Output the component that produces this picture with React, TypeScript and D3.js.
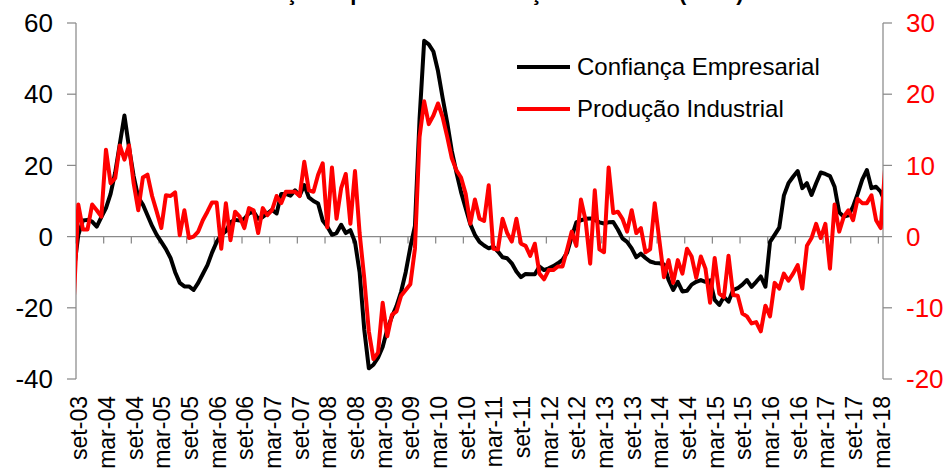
import React from 'react';
import * as d3 from 'd3';

// chart size and plot box (px)
const W = 947;
const H = 469;
const plotLeft = 76;
const plotRight = 883;
const plotTop = 23;
const plotBottom = 379;

// months: data run from ago-03 to abr-18; the first and last months sit outside the plot and are clipped
const monthNames = ['jan', 'fev', 'mar', 'abr', 'mai', 'jun', 'jul', 'ago', 'set', 'out', 'nov', 'dez'];
const firstYear = 2003;
const firstMonth = 7; // ago

// Confiança Empresarial (left axis)
const confianca = [
  -10, 0.5, 4.5, 4.7, 4.2, // 2003 ago-dez
  2.8, 5.5, 8, 12, 18, 26, 34, 25, 17, 11, 9, 6, // 2004
  3, 0.5, -1.5, -3.5, -6, -10, -13, -14, -14, -15, -13, -10.5, // 2005
  -8, -4.5, -1.5, 0.5, 1.5, 4, 4.7, 4.5, 5, 6.5, 7, 5, // 2006
  5.5, 6.5, 7.5, 6.5, 12, 12, 11.5, 13, 11.5, 14.5, 11, 10, // 2007
  9.3, 4.5, 2.8, 0.5, 1, 3.3, 1, 1.8, -1.5, -10, -26, -37, // 2008
  -36, -34, -31, -26, -22.5, -19.5, -15.5, -10, -3, 3, 33, 55, // 2009
  54, 52, 46.5, 39, 32, 24, 18, 12.5, 8, 3.5, 0.5, -1.5, // 2010
  -2.5, -3.3, -2.8, -4.2, -5.8, -6.1, -7.5, -9.8, -11.4, -10.5, -10.6, -10.6, // 2011
  -8.4, -9.4, -8.9, -8.3, -7.5, -6.5, -4.5, 0, 4, 4.6, 5, 5.1, // 2012
  4.7, 4, 3.7, 4, 4.1, 2, -0.5, -1.5, -3.3, -5.8, -4.8, -6, // 2013
  -7, -7.4, -7.5, -7.8, -12.2, -15, -12.7, -15.4, -15.2, -13.5, -12.7, -12.2, // 2014
  -12.7, -12.3, -17.8, -19.2, -16.9, -18.3, -15, -14.5, -13.5, -12.2, -14.1, -12.7, // 2015
  -11.2, -14.1, -1.5, 0.5, 2.5, 11.5, 15, 16.8, 18.4, 13.6, 15, 11.7, // 2016
  15, 18, 17.6, 17, 14, 6.8, 5.6, 6, 8.4, 12, 16, 18.7, // 2017
  13.6, 14, 12.6, 9.5, // 2018 jan-abr
];

// Produção Industrial (right axis)
const producao = [
  -9.2, 4.5, 1, 1, 4.5, // 2003 ago-dez
  3.7, 2.8, 12.2, 7.5, 8.2, 12.8, 10.8, 12.8, 7.5, 3.7, 8.3, 8.7, // 2004
  5.7, 3.5, 1.2, 5.8, 5.7, 6.2, 0.2, 3.7, -0.2, 0, 0.7, 2.3, // 2005
  3.5, 4.8, 4.8, -1.7, 4.7, -0.5, 3.5, 2.8, 1.2, 4, 3.7, 0.5, // 2006
  4, 3, 3.7, 5.7, 4.7, 6.3, 6.3, 6.3, 5.7, 10.5, 6.5, 6.3, // 2007
  8.7, 10.3, 1.3, 9.7, 2.5, 6.8, 8.8, 1.8, 9.2, 0.5, -5.8, -13.3, // 2008
  -17.2, -16.3, -9.3, -14, -11, -10.5, -8.3, -7.5, -6.7, -1.7, 14, 19, // 2009
  15.8, 17, 18.7, 16.8, 14, 11, 9.3, 8.3, 6, 1.8, 5.2, 2.5, // 2010
  2.2, 7.2, -1.7, -1.8, 2.5, 0.5, -0.7, 2.5, -1, -1.3, -2.7, -1, // 2011
  -5.2, -6, -4.7, -4.7, -4.2, -4.2, -1.8, 0.7, -1.3, 5.2, 2.3, -3.8, // 2012
  6.5, -1.8, -2.2, 9.7, 3.3, 3.5, 2.5, 0.7, 3.7, 0.5, 1.2, -2.2, // 2013
  -1.8, 4.7, -0.5, -5.7, -3.3, -6.5, -3.3, -5.2, -1.7, -2.8, -5.8, -2.8, // 2014
  -4.5, -9.3, -3, -8, -8.5, -2.7, -8.2, -8.3, -10.8, -11.2, -12.2, -12, // 2015
  -13.3, -9.7, -11.2, -6.5, -7.3, -5.2, -6.2, -5.2, -4, -7.3, -1.3, -0.2, // 2016
  1.8, -0.2, 1.8, -4.5, 4.5, 0.7, 2.8, 3.7, 2.3, 5.3, 4.7, 4.7, // 2017
  5.8, 2.3, 1.2, 10, // 2018 jan-abr
];

const tickLabels = [
  'set-03', 'mar-04', 'set-04', 'mar-05', 'set-05', 'mar-06', 'set-06', 'mar-07', 'set-07', 'mar-08',
  'set-08', 'mar-09', 'set-09', 'mar-10', 'set-10', 'mar-11', 'set-11', 'mar-12', 'set-12', 'mar-13',
  'set-13', 'mar-14', 'set-14', 'mar-15', 'set-15', 'mar-16', 'set-16', 'mar-17', 'set-17', 'mar-18',
];
const leftTicks = [60, 40, 20, 0, -20, -40];
const rightTicks = [30, 20, 10, 0, -10, -20];
const seriesNames = ['Confiança Empresarial', 'Produção Industrial'];
const seriesColors = ['#000000', '#ff0000'];
const title = 'Confiança Empresarial e Produção Industrial (t.v.h.)';

const font = "'Liberation Sans', Arial, Helvetica, sans-serif";
const axisGrey = '#8a8a8a';

const months = confianca.map((_, k) => {
  const m = (firstMonth + k) % 12;
  const y = firstYear + Math.floor((firstMonth + k) / 12);
  return monthNames[m] + '-' + String(y % 100).padStart(2, '0');
});
// plot position: set-03 is 0, mar-18 is 174
const pos = (k: number) => k - months.indexOf('set-03');
const nCat = months.indexOf('mar-18') - months.indexOf('set-03') + 1;

const App = () => {
  const x = d3.scaleLinear().domain([-0.5, nCat - 0.5]).range([plotLeft, plotRight]);
  const yL = d3.scaleLinear().domain([-40, 60]).range([plotBottom, plotTop]);
  const yR = d3.scaleLinear().domain([-20, 30]).range([plotBottom, plotTop]);

  const lineL = d3.line<number>().x((_, k) => x(pos(k))).y(d => yL(d));
  const lineR = d3.line<number>().x((_, k) => x(pos(k))).y(d => yR(d));

  const zeroY = yL(0);
  const boundaries = d3.range(0, nCat, 6).map(i => x(i - 0.5));

  return (
    <svg width={W} height={H} style={{ position: 'absolute', left: 0, top: 0, display: 'block' }} fontFamily={font}>
      <defs>
        <clipPath id="plotClip">
          <rect x={plotLeft} y={0} width={plotRight - plotLeft} height={H} />
        </clipPath>
      </defs>
      <rect width={W} height={H} fill="#fff" />

      {/* title: only its bottom edge shows in the source */}
      <text x={W / 2} y={0} textAnchor="middle" fontSize={22} fontWeight="bold">{title}</text>

      {/* left axis */}
      <line x1={plotLeft} x2={plotLeft} y1={plotTop} y2={plotBottom} stroke={axisGrey} strokeWidth={1.25} />
      {leftTicks.map(t => (
        <g key={'l' + t}>
          <line x1={plotLeft - 9} x2={plotLeft} y1={yL(t)} y2={yL(t)} stroke={axisGrey} strokeWidth={1.25} />
          <text x={53} y={yL(t)} dy="0.35em" textAnchor="end" fontSize={26}>{t}</text>
        </g>
      ))}

      {/* right axis */}
      <line x1={plotRight} x2={plotRight} y1={plotTop} y2={plotBottom} stroke={axisGrey} strokeWidth={1.25} />
      {rightTicks.map(t => (
        <g key={'r' + t}>
          <line x1={plotRight} x2={plotRight + 9} y1={yR(t)} y2={yR(t)} stroke={axisGrey} strokeWidth={1.25} />
          <text x={906} y={yR(t)} dy="0.35em" textAnchor="start" fontSize={26} fill="#ff0000">{t}</text>
        </g>
      ))}

      {/* category axis at zero */}
      <line x1={plotLeft} x2={plotRight} y1={zeroY} y2={zeroY} stroke={axisGrey} strokeWidth={1.25} />
      {boundaries.map((bx, i) => (
        <line key={'b' + i} x1={bx} x2={bx} y1={zeroY} y2={zeroY + 7} stroke={axisGrey} strokeWidth={1.25} />
      ))}
      {tickLabels.map(lab => {
        const cx = x(pos(months.indexOf(lab)));
        return (
          <text key={lab} transform={`translate(${cx + 1},396) rotate(-90)`} dy="0.35em" textAnchor="end" fontSize={23}>{lab}</text>
        );
      })}

      {/* series */}
      <g clipPath="url(#plotClip)">
        <path d={lineL(confianca) || ''} fill="none" stroke={seriesColors[0]} strokeWidth={4} strokeLinejoin="round" />
        <path d={lineR(producao) || ''} fill="none" stroke={seriesColors[1]} strokeWidth={4} strokeLinejoin="round" />
      </g>

      {/* legend */}
      {seriesNames.map((name, i) => (
        <g key={name} transform={`translate(517,${67 + i * 42})`}>
          <line x1={0} x2={53} y1={0} y2={0} stroke={seriesColors[i]} strokeWidth={4} />
          <text x={60} y={0} dy="0.35em" fontSize={24}>{name}</text>
        </g>
      ))}
    </svg>
  );
};

export default App;
